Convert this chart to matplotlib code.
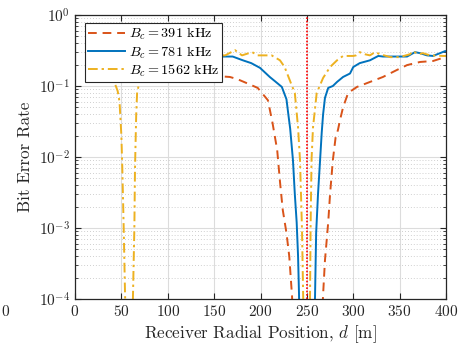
import numpy as np
import matplotlib
matplotlib.use("Agg")
import matplotlib.pyplot as plt
from matplotlib.ticker import LogLocator, FixedLocator, NullFormatter

plt.rcParams['font.family'] = ['cmr10', 'DejaVu Serif']
plt.rcParams['mathtext.fontset'] = 'cm'
plt.rcParams['axes.formatter.use_mathtext'] = True

nan = np.nan

# B_c = 391 kHz
x_391 = [20, 40, 60, 80, 100, 120, 140, 160, 167, 175, 185, 197, 208, 213, 218, 221, 224,
         228, 231, 234, 235, nan, 266.5, 267.4, 269.5, 273, 275, 278, 281, 283.5, 285.7, 289,
         294.5, 304, 318, 332, 347, 358, 372, 386, 397, 400]
ber_391 = [0.14, 0.14, 0.14, 0.14, 0.14, 0.14, 0.14, 0.136, 0.134, 0.125, 0.11, 0.094, 0.063,
           0.03, 0.0125, 0.0045, 0.0018, 8.5e-4, 4e-4, 1.1e-4, 5e-5, nan, 5e-5, 1.1e-4, 3.5e-4,
           0.0012, 0.003, 0.009, 0.019, 0.024, 0.033, 0.05, 0.08, 0.097, 0.114, 0.134, 0.168,
           0.197, 0.218, 0.225, 0.25, 0.255]

# B_c = 781 kHz
x_781 = [20, 60, 100, 140, 160, 170, 181, 190, 199.5, 210, 218, 223, 228, 230, 232, 235, 237,
         239, 240.5, 241.5, 242, nan, 258, 258.8, 260, 262, 264, 266, 267.5, 269.5, 273, 278,
         282.5, 289, 296.5, 300, 307, 318, 327, 332, 358, 366.6, 372, 379.5, 386, 393.5, 399, 400]
ber_781 = [0.26, 0.26, 0.26, 0.26, 0.26, 0.26, 0.23, 0.21, 0.18, 0.134, 0.11, 0.097, 0.065,
           0.04, 0.025, 0.009, 0.003, 0.0012, 4e-4, 1.2e-4, 5e-5, nan, 5e-5, 1.1e-4, 8.5e-4,
           0.003, 0.008, 0.022, 0.04, 0.068, 0.094, 0.1, 0.114, 0.134, 0.15, 0.185, 0.21, 0.23,
           0.265, 0.26, 0.26, 0.30, 0.29, 0.27, 0.265, 0.29, 0.31, 0.31]

# B_c = 1562 kHz
x_1562 = [20, 30, 36, 40, 44, 46, 48, 50, 51, 52.5, 54, 55, nan, 62, 62.5, 64, 64.7, 66, 67,
          70, 75, 85, 100, 120, 140, 162, 172.5, 180, 191, 197, 212, 221, 226, 234, 237, 240.5,
          242.6, 244.7, 246, 246.5, nan, 253, 253.4, 254, 255, 256.6, 260.6, 262, 267.5, 275,
          282.5, 289, 300, 303, 307, 312.7, 318, 323.5, 329, 340, 350, 361, 364.5, 370, 375,
          383, 397, 400]
ber_1562 = [0.25, 0.25, 0.2, 0.13, 0.1, 0.085, 0.06, 0.02, 0.007, 0.001, 1.1e-4, 5e-5, nan,
            5e-5, 1.1e-4, 0.001, 0.007, 0.04, 0.082, 0.12, 0.18, 0.26, 0.27, 0.28, 0.27, 0.27,
            0.32, 0.27, 0.30, 0.27, 0.27, 0.23, 0.185, 0.1, 0.08, 0.026, 0.009, 0.001, 1.1e-4,
            5e-5, nan, 5e-5, 1.1e-4, 0.001, 0.009, 0.026, 0.08, 0.088, 0.13, 0.185, 0.23, 0.265,
            0.265, 0.27, 0.30, 0.28, 0.27, 0.30, 0.28, 0.255, 0.255, 0.28, 0.31, 0.28, 0.29,
            0.27, 0.265, 0.265]

labels = [r'$B_c = 391$ kHz', r'$B_c = 781$ kHz', r'$B_c = 1562$ kHz']
x_ref = 250
xticks = [0, 50, 100, 150, 200, 250, 300, 350, 400]

c_blue = '#0072BD'
c_orange = '#D95319'
c_yellow = '#EDB120'

fig = plt.figure(figsize=(4.72, 3.50), dpi=100)
ax = fig.add_axes([75/472, 51/350, 371/472, 284/350])

ax.semilogy(x_391, ber_391, linestyle=(0, (4.5, 3)), color=c_orange, lw=1.4, label=labels[0])
ax.semilogy(x_781, ber_781, linestyle='-', color=c_blue, lw=1.4, label=labels[1])
ax.semilogy(x_1562, ber_1562, linestyle=(0, (5, 2, 1.2, 2)), color=c_yellow, lw=1.4, label=labels[2])
ax.axvline(x_ref, color='red', linestyle=(0, (1, 1)), lw=1.2)

ax.set_xlim(0, 400)
ax.set_ylim(1e-4, 1e0)
ax.xaxis.set_major_locator(FixedLocator(xticks))
ax.yaxis.set_major_locator(LogLocator(base=10, numticks=10))
ax.yaxis.set_minor_locator(LogLocator(base=10, subs=np.arange(2, 10), numticks=10))
ax.yaxis.set_minor_formatter(NullFormatter())

ax.grid(True, which='major', color='#dcdcdc', lw=0.8, linestyle='-')
ax.grid(True, which='minor', axis='y', color='#c0c0c0', lw=0.6, linestyle=(0, (1, 2.5)))
ax.set_axisbelow(True)

ax.tick_params(which='both', direction='in', top=True, right=True, colors='#262626',
               labelsize=11)
ax.tick_params(which='major', length=4, width=0.8)
ax.tick_params(which='minor', length=2, width=0.6)
for s in ax.spines.values():
    s.set_color('#262626')
    s.set_linewidth(0.9)

ax.set_xlabel(r'Receiver Radial Position, $d$ [m]', fontsize=12.3, color='#262626', labelpad=3)
ax.set_ylabel('Bit Error Rate', fontsize=12.3, color='#262626', labelpad=4)

leg = ax.legend(loc='upper left', bbox_to_anchor=(0.027, 0.972), borderaxespad=0,
                fontsize=10.2, frameon=True, fancybox=False, framealpha=1,
                edgecolor='#262626', handlelength=2.6, handletextpad=0.25,
                borderpad=0.22, labelspacing=0.12)
leg.get_frame().set_linewidth(0.8)

fig.text(5/472, 1 - 312/350, '0', fontsize=11, ha='center', va='center', color='#262626')

fig.savefig('out.png', dpi=100)
